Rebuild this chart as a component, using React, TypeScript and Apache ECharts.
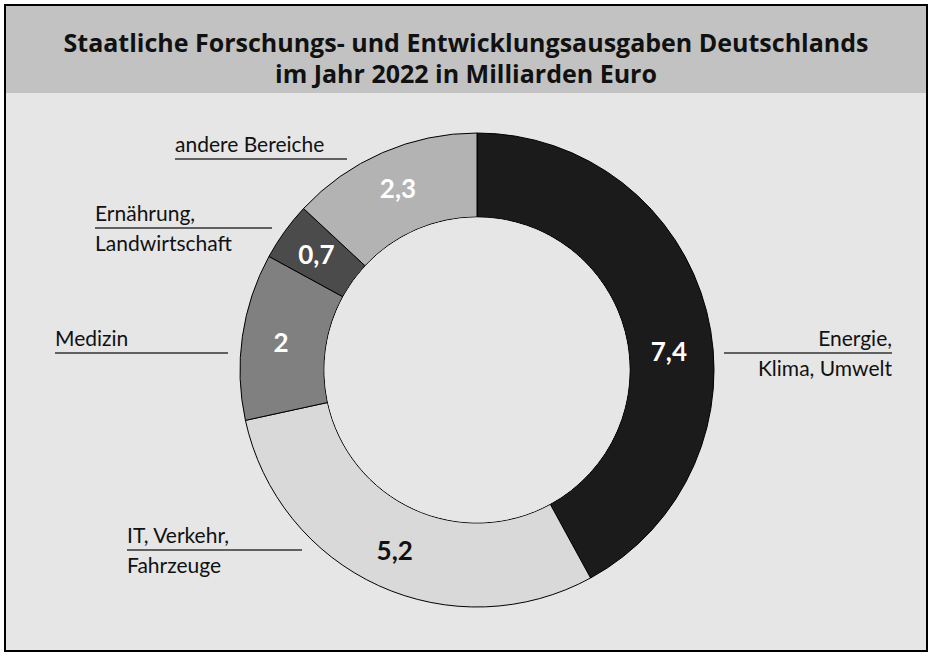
import { useEffect, useRef } from "react";
import * as echarts from "echarts";

const TITLE = "Staatliche Forschungs- und Entwicklungsausgaben Deutschlands\nim Jahr 2022 in Milliarden Euro";

const categories = [
  "Energie, Klima, Umwelt",
  "IT, Verkehr, Fahrzeuge",
  "Medizin",
  "Ernährung, Landwirtschaft",
  "andere Bereiche",
];
const values = [7.4, 5.2, 2, 0.7, 2.3];
const sliceColors = ["#1b1b1b", "#d9d9d9", "#808080", "#4b4b4b", "#b3b3b3"];
const valueColors = ["#ffffff", "#111111", "#ffffff", "#ffffff", "#ffffff"];

const FONT = "Lato, 'Open Sans', sans-serif";
const BODY = "#e6e6e6";
const CENTER = [471, 364];

// outside labels: text lines above/below an underline (page coords)
const sideLabels = [
  { top: "andere Bereiche", bottom: "", x1: 175, x2: 347, y: 159, align: "left" },
  { top: "Ernährung,", bottom: "Landwirtschaft", x1: 95, x2: 272, y: 228, align: "left" },
  { top: "Medizin", bottom: "", x1: 55, x2: 228, y: 353, align: "left" },
  { top: "Energie,", bottom: "Klima, Umwelt", x1: 724, x2: 892, y: 353, align: "right" },
  { top: "IT, Verkehr,", bottom: "Fahrzeuge", x1: 127, x2: 302, y: 550, align: "left" },
];

export default function App() {
  const ref = useRef<HTMLDivElement>(null);

  useEffect(() => {
    if (!ref.current) return;
    const chart = echarts.init(ref.current, undefined, { renderer: "svg" });

    const graphics: any[] = [
      {
        type: "rect",
        z: -9,
        shape: { x: 0, y: 0, width: 922, height: 87 },
        style: { fill: "#c2c2c2" },
      },
    ];

    sideLabels.forEach((l) => {
      graphics.push({
        type: "line",
        shape: { x1: l.x1 - 6, y1: l.y - 6, x2: l.x2 - 6, y2: l.y - 6 },
        style: { stroke: "#333", lineWidth: 1.5 },
      });
      const tx = (l.align === "right" ? l.x2 : l.x1) - 6;
      graphics.push({
        type: "text",
        x: tx,
        y: l.y - 11,
        style: {
          text: l.top,
          fill: "#111",
          font: `21px ${FONT}`,
          align: l.align,
          verticalAlign: "bottom",
        },
      });
      if (l.bottom) {
        graphics.push({
          type: "text",
          x: tx,
          y: l.y - 2,
          style: {
            text: l.bottom,
            fill: "#111",
            font: `21px ${FONT}`,
            align: l.align,
            verticalAlign: "top",
          },
        });
      }
    });

    chart.setOption({
      animation: false,
      backgroundColor: "transparent",
      title: {
        text: TITLE,
        left: "center",
        top: 15,
        textStyle: {
          fontFamily: "'Open Sans', Lato, sans-serif",
          fontSize: 25,
          fontWeight: "bold",
          color: "#111",
          lineHeight: 31,
          align: "center",
        },
      },
      graphic: graphics,
      series: [
        {
          type: "pie",
          center: CENTER,
          radius: [153, 237],
          startAngle: 90,
          clockwise: true,
          data: categories.map((name, i) => ({
            name,
            value: values[i],
            itemStyle: { color: sliceColors[i] },
            label: { color: valueColors[i] },
          })),
          itemStyle: { borderColor: "#000", borderWidth: 1 },
          label: {
            show: true,
            position: "inside",
            formatter: (p: any) => String(p.value).replace(".", ","),
            fontFamily: FONT,
            fontSize: 26,
            fontWeight: "bold",
          },
          labelLine: { show: false },
          labelLayout: (p: any) => (p.dataIndex === 0 ? { dy: 30 } : {}),
        },
        {
          // fill of the donut hole
          type: "pie",
          z: 10,
          silent: true,
          center: CENTER,
          radius: [0, 152.5],
          label: { show: false },
          labelLine: { show: false },
          itemStyle: { color: BODY, borderWidth: 0 },
          data: [{ value: 1, name: "" }],
        },
      ],
    });

    return () => chart.dispose();
  }, []);

  return (
    <div style={{ position: "absolute", left: 0, top: 0, width: 932, height: 658, background: "#ffffff" }}>
      <div
        style={{
          position: "absolute",
          left: 4,
          top: 4,
          width: 920,
          height: 644,
          border: "2px solid #000",
          background: BODY,
        }}
      >
        <div ref={ref} style={{ width: 920, height: 644 }} />
      </div>
    </div>
  );
}
